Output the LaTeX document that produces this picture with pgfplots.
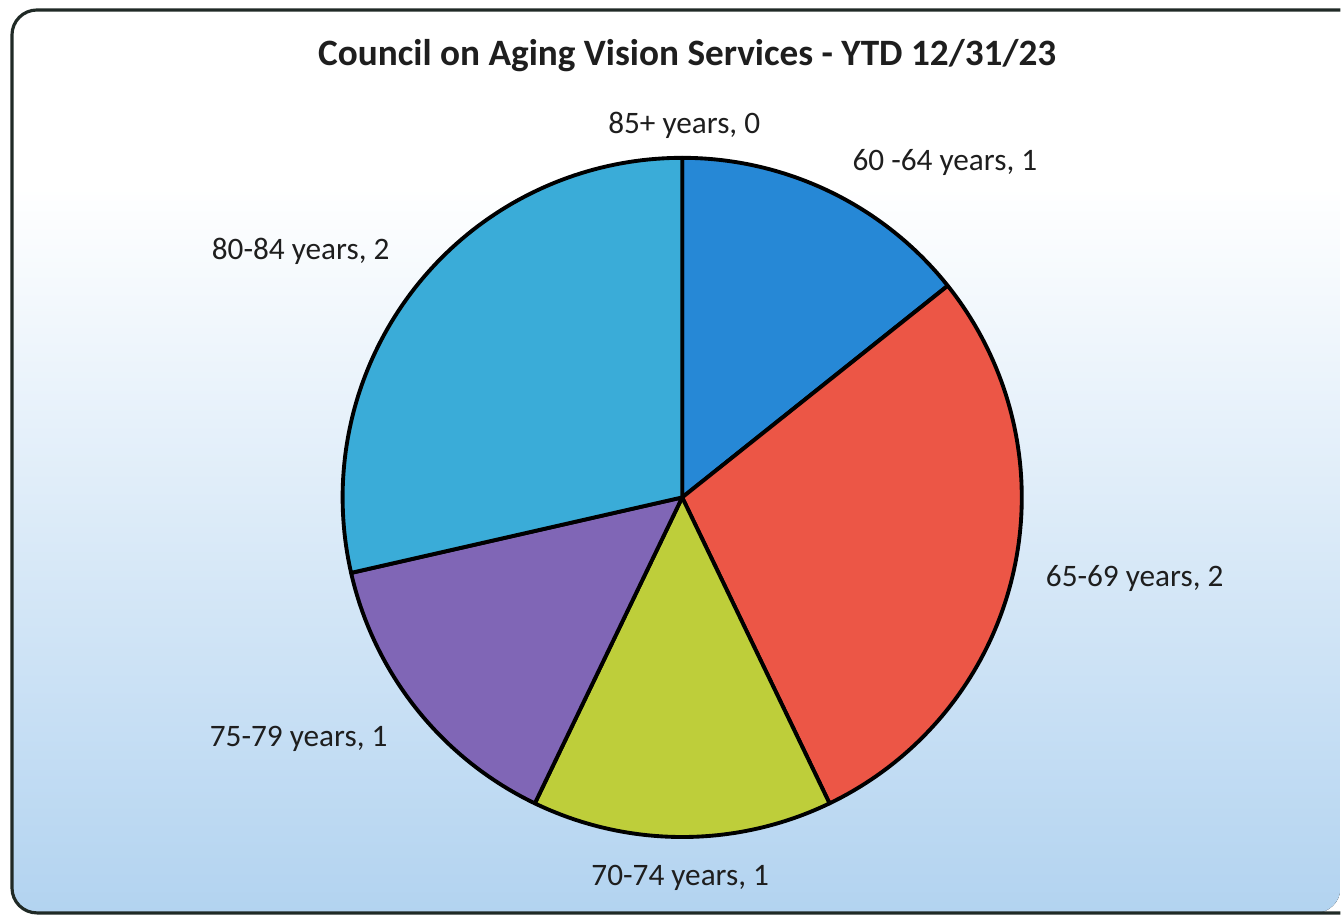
\documentclass[border=0pt]{standalone}
\usepackage{pgfplots}
\usepackage{pgfplotstable}
\pgfplotsset{compat=1.18}
\usepackage{fontspec}
\setmainfont{Carlito}

\definecolor{pie0}{RGB}{38,136,214}   % 60-64
\definecolor{pie1}{RGB}{236,86,70}    % 65-69
\definecolor{pie2}{RGB}{190,206,58}   % 70-74
\definecolor{pie3}{RGB}{128,102,182}  % 75-79
\definecolor{pie4}{RGB}{58,172,216}   % 80-84
\definecolor{pie5}{RGB}{150,150,150}  % 85+
\definecolor{bgmid}{RGB}{214,231,247}
\definecolor{bgbot}{RGB}{178,211,240}
\definecolor{framec}{RGB}{32,42,38}
\definecolor{txt}{RGB}{30,30,30}

% age groups, clockwise from 12 o'clock
\pgfplotstableread{
group value
{60 -64 years} 1
{65-69 years} 2
{70-74 years} 1
{75-79 years} 1
{80-84 years} 2
{85+ years} 0
}\agedata

% slice angles from the values
\def\total{0}
\pgfplotsforeachungrouped \i in {0,...,5}{%
  \pgfplotstablegetelem{\i}{value}\of\agedata
  \pgfmathsetmacro\total{\total+\pgfplotsretval}%
}
\def\cum{0}
\pgfplotsforeachungrouped \i in {0,...,5}{%
  \pgfplotstablegetelem{\i}{value}\of\agedata
  \pgfmathsetmacro\a{90-360*\cum/\total}%
  \pgfmathsetmacro\cum{\cum+\pgfplotsretval}%
  \pgfmathsetmacro\b{90-360*\cum/\total}%
  \expandafter\xdef\csname angS\i\endcsname{\a}%
  \expandafter\xdef\csname angE\i\endcsname{\b}%
}

\begin{document}
\begin{tikzpicture}
\begin{axis}[
    hide axis, scale only axis,
    width=13.42cm, height=9.17cm,
    xmin=0, xmax=1342, ymin=0, ymax=917,
    clip=false, no markers,
]
% bounding box and chart area
\path (axis cs:0,0) rectangle (axis cs:1342,917);
\begin{scope}
\clip[rounded corners=0.25cm]
  (axis cs:1342,907) -- (axis cs:12,907) -- (axis cs:12,3) -- (axis cs:1342,3) [sharp corners] -- cycle;
\fill[white] (axis cs:0,0) rectangle (axis cs:1342,917);
\fill[top color=white, middle color=bgmid, bottom color=bgbot]
  (axis cs:0,0) rectangle (axis cs:1342,730);
\end{scope}
\draw[framec, line width=0.9pt, rounded corners=0.25cm]
  (axis cs:1342,907) -- (axis cs:12,907) -- (axis cs:12,3) -- (axis cs:1342,3);

% wedges
\pgfplotsinvokeforeach{0,...,4}{
  \addplot[draw=black, line width=1.1pt, line join=round, fill=pie#1,
    domain={\csname angE#1\endcsname}:{\csname angS#1\endcsname},
    samples=90, variable=\t]
    ({683+340*cos(\t)},{419+340*sin(\t)}) -- (axis cs:683,419) -- cycle;
}

% title and data labels
\node[txt, font=\bfseries\fontsize{10.6}{12}\selectfont, anchor=base]
  at (axis cs:688,851) {Council on Aging Vision Services - YTD 12/31/23};
\begin{scope}[every node/.style={txt, font=\fontsize{8.9}{10}\selectfont, anchor=base}]
\node at (axis cs:685,783) {85+ years, 0};
\node at (axis cs:946,746) {60 -64 years, 1};
\node at (axis cs:1136,330) {65-69 years, 2};
\node at (axis cs:681,30) {70-74 years, 1};
\node at (axis cs:299,170) {75-79 years, 1};
\node at (axis cs:301,657) {80-84 years, 2};
\end{scope}
\end{axis}
\end{tikzpicture}
\end{document}
